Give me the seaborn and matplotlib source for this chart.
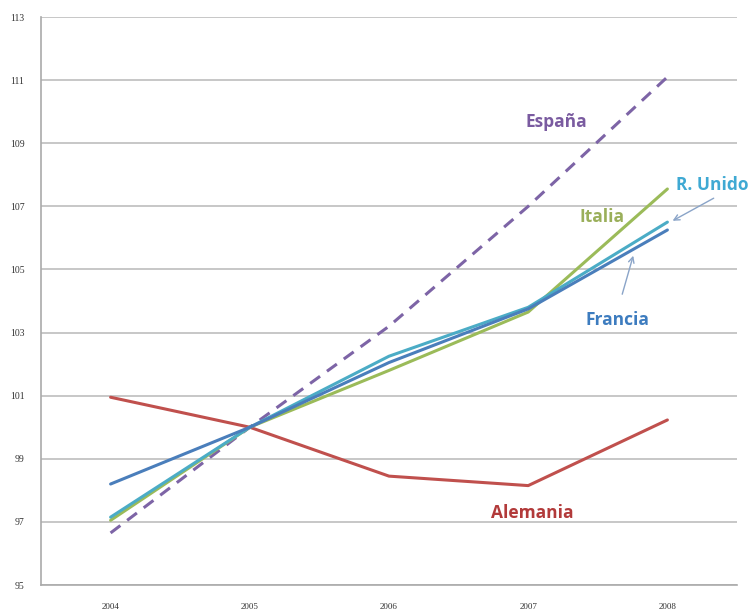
import numpy as np
import pandas as pd
import matplotlib
matplotlib.use("Agg")
import matplotlib.pyplot as plt
import seaborn as sns

# values (index, 2005 = 100)
years = ["2004", "2005", "2006", "2007", "2008"]
espana = [96.65, 100.0, 103.2, 107.0, 111.1]
alemania = [100.95, 100.0, 98.45, 98.15, 100.23]
italia = [97.05, 100.0, 101.8, 103.65, 107.55]
reino_unido = [97.15, 100.0, 102.25, 103.8, 106.5]
francia = [98.2, 100.0, 102.05, 103.75, 106.25]
y_ticks = list(range(95, 114, 2))

series = {
    "España": espana,
    "Alemania": alemania,
    "Italia": italia,
    "R. Unido": reino_unido,
    "Francia": francia,
}
colors = {
    "España": "#7D64A6",
    "Alemania": "#C0504D",
    "Italia": "#9BBB59",
    "R. Unido": "#4BACC6",
    "Francia": "#4A7EBB",
}
text_colors = {
    "España": "#7A5BA0",
    "Alemania": "#B23A3A",
    "Italia": "#9AAF5A",
    "R. Unido": "#3FA9D3",
    "Francia": "#3D7CBF",
}

rows = []
for name, vals in series.items():
    for i, v in enumerate(vals):
        rows.append({"pais": name, "x": i, "valor": v})
df = pd.DataFrame(rows)

sns.set_style("white")
plt.rcParams["font.family"] = ["DejaVu Sans"]

fig = plt.figure(figsize=(7.51, 6.10), dpi=100)
ax = fig.add_axes([41 / 751, 25 / 610, 696 / 751, 568 / 610])

sns.lineplot(data=df, x="x", y="valor", hue="pais", style="pais",
             palette=colors,
             dashes={"España": (4, 2.8), "Alemania": "", "Italia": "",
                     "R. Unido": "", "Francia": ""},
             linewidth=2.2, legend=False, ax=ax)

ax.set_xlim(-0.5, 4.5)
ax.set_ylim(95, 113)
ax.set_yticks(y_ticks)
ax.set_yticklabels([str(t) for t in y_ticks], fontsize=7, family="Liberation Serif", color="#333333")
ax.set_xticks(range(len(years)))
ax.set_xticklabels(years, fontsize=6.5, family="Liberation Serif", color="#333333")
ax.set_xticks(np.arange(-0.5, 5, 1), minor=True)
ax.tick_params(axis="x", which="major", length=0, pad=13)
ax.tick_params(axis="x", which="minor", length=4, color="#aaaaaa", width=1)
ax.tick_params(axis="y", length=4, color="#aaaaaa", width=1, pad=8)
ax.set_xlabel("")
ax.set_ylabel("")

ax.grid(axis="y", color="#bdbdbd", linewidth=1.2)
ax.grid(axis="x", visible=False)
ax.set_axisbelow(True)
for side in ["top", "right"]:
    ax.spines[side].set_visible(False)
for side in ["left", "bottom"]:
    ax.spines[side].set_color("#aaaaaa")
    ax.spines[side].set_linewidth(1.2)

lab_font = dict(fontsize=12.5, fontweight="bold", family="Open Sans")
ax.text(3.2, 109.67, "España", color=text_colors["España"], ha="center", va="center", **lab_font)
ax.text(3.53, 106.66, "Italia", color=text_colors["Italia"], ha="center", va="center", **lab_font)
ax.text(4.32, 107.68, "R. Unido", color=text_colors["R. Unido"], ha="center", va="center", **lab_font)
ax.text(3.64, 103.4, "Francia", color=text_colors["Francia"], ha="center", va="center", **lab_font)
ax.text(3.03, 97.28, "Alemania", color=text_colors["Alemania"], ha="center", va="center", **lab_font)

arrow = dict(arrowstyle="->", color="#8aa4c8", lw=1.0)
ax.annotate("", xy=(4.02, 106.5), xytext=(4.35, 107.3), arrowprops=arrow)
ax.annotate("", xy=(3.76, 105.52), xytext=(3.67, 104.13), arrowprops=arrow)

fig.savefig("out.png", dpi=100, facecolor="white")
